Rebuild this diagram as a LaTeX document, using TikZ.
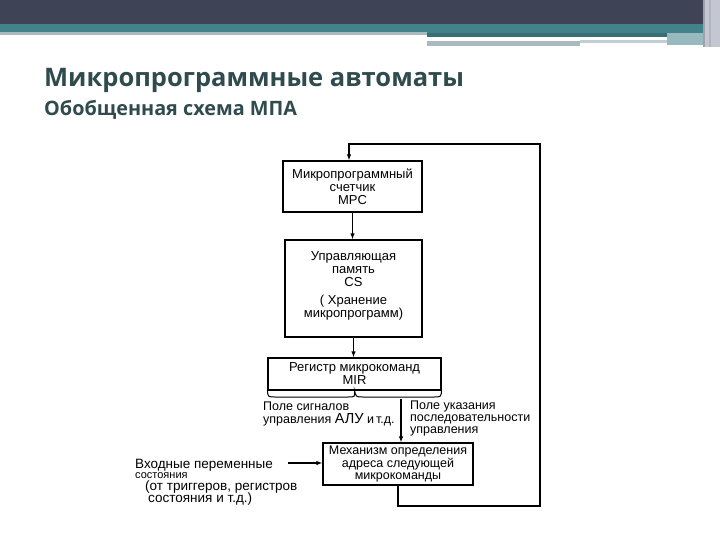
\documentclass[tikz,border=0pt]{standalone}
\usepackage{fontspec}
\setmainfont{Liberation Sans}
\newfontfamily\titlefont{Open Sans}
\newfontfamily\diagfont{Liberation Sans}
\usetikzlibrary{arrows.meta,calc}
\definecolor{hdrdark}{HTML}{3F4356}
\definecolor{hdrteal}{HTML}{448289}
\definecolor{hdrgray}{HTML}{A8BABE}
\definecolor{hdrlight}{HTML}{C4C6D2}
\definecolor{titlecol}{HTML}{2F4B4E}
\begin{document}
\begin{tikzpicture}[x=1pt,y=-1pt,
  box/.style={draw,line width=1.2pt,inner sep=1pt,align=center,font=\diagfont\fontsize{13}{13}\selectfont},
  lbl/.style={inner sep=0pt,anchor=west,font=\diagfont\fontsize{12.5}{12.5}\selectfont},
  inlbl/.style={inner sep=0pt,anchor=west,font=\diagfont\fontsize{13.5}{13.5}\selectfont},
  conn/.style={line width=1.2pt},
  arr/.style={conn,-{Latex[length=6pt,width=4.5pt]}}]
\useasboundingbox (0,0) rectangle (720,540);
\fill[white] (0,0) rectangle (720,540);
% header
\fill[hdrdark] (0,0) rectangle (720,24);
\fill[hdrteal] (0,24) rectangle (706,33);
\fill[hdrgray] (0,32) rectangle (427,35);
\fill[hdrteal!85!black] (427,33) rectangle (667,37);
\fill[hdrgray] (427,41) rectangle (580,46);
\fill[hdrgray!70] (580,40) rectangle (667,43);
\fill[hdrteal!55] (667,33) rectangle (703,45);
\fill[hdrlight] (703,0) rectangle (720,47);
\fill[hdrdark!50] (703,0) rectangle (705,47);
\fill[hdrdark!40] (709,0) rectangle (711,47);
% titles
\node[anchor=base west,inner sep=0pt,text=titlecol,font=\titlefont\bfseries\fontsize{25.5}{30}\selectfont] (title) at (44,86.5) {Микропрограммные автоматы};
\node[anchor=base west,inner sep=0pt,text=titlecol,font=\titlefont\bfseries\fontsize{19.8}{22}\selectfont] (subtitle) at (44,116) {Обобщенная схема МПА};
% boxes
\node[box,minimum width=139pt,minimum height=51pt] (mpc) at (352.5,186.5) {Микропрограммный\\счетчик\\MPC};
\node[box,minimum width=137pt,minimum height=97pt] (cs) at (353.5,288.5) {Управляющая\\память\\CS\\[5pt]( Хранение\\микропрограмм)\\[-5pt]\mbox{}};
\node[box,minimum width=173pt,minimum height=32pt] (mir) at (354.5,374) {Регистр микрокоманд\\MIR};
\node[box,minimum width=150pt,minimum height=42pt,font=\diagfont\fontsize{12.5}{12.2}\selectfont] (next) at (398,464) {Механизм определения\\адреса следующей\\микрокоманды};
% connectors
\coordinate (topR) at (540,144);
\coordinate (botR) at (540,506);
\draw[arr] (next.south) |- (botR) -- (topR) -| ($(mpc.north)+(-3.5,0)$);
\draw[arr] (mpc.south) -- (mpc.south |- cs.north);
\draw[arr] (cs.south) -- (cs.south |- mir.north);
\draw[conn,line width=1pt] (mir.south west) .. controls (268,397) .. (275,397) -- (348,397) .. controls (355,397) .. (mir.south) .. controls (356,397) .. (363,397) -- (434,397) .. controls (441,397) .. (mir.south east);
\coordinate (fa) at (401,399);
\draw[arr] (fa) -- (fa |- next.north);
\coordinate (inA) at (288,463);
\draw[arr] (inA) -- (inA -| next.west);
% labels
\node[lbl] (f1a) at (263,406) {Поле сигналов};
\node[lbl] (f1b) at (263,420) {управления {\fontsize{14.5}{14.5}\selectfont АЛУ} и\,т.д.};
\node[lbl] (f2a) at (410,406) {Поле указания};
\node[lbl] (f2b) at (410,419) {последовательности};
\node[lbl] (f2c) at (410,431) {управления};
\node[inlbl] (in1) at (135,465) {Входные переменные};
\node[lbl,font=\diagfont\fontsize{11}{11}\selectfont] (in2) at (135,476) {состояния};
\node[inlbl] (in3) at (145,487.5) {(от триггеров, регистров};
\node[inlbl] (in4) at (148,499.5) {состояния и т.д.)};
\end{tikzpicture}
\end{document}
